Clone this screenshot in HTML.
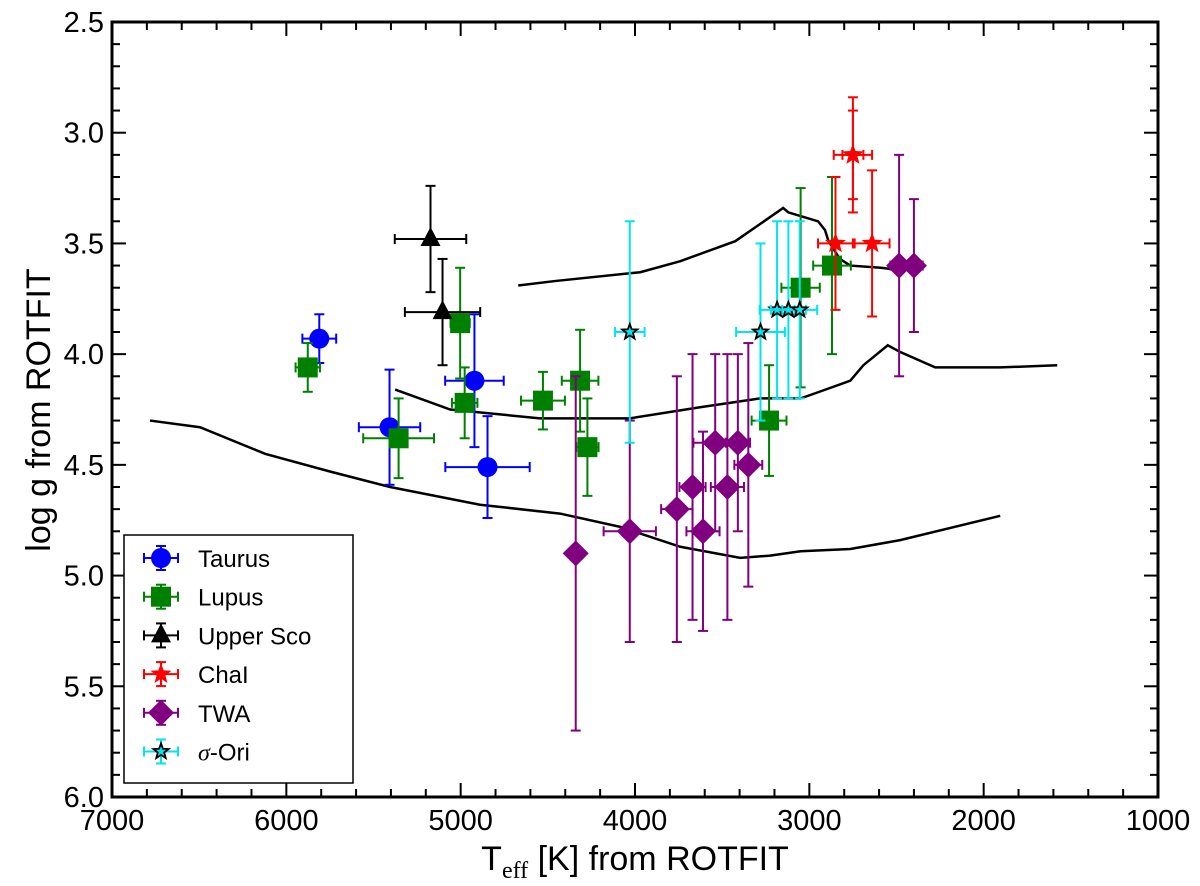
<!DOCTYPE html>
<html><head><meta charset="utf-8"><style>
html,body{margin:0;padding:0;background:#fff}
svg{display:block;font-family:"Liberation Sans","DejaVu Sans",sans-serif}
</style></head><body>
<svg id="chart" width="1200" height="886" viewBox="0 0 1200 886" xmlns="http://www.w3.org/2000/svg">
<rect x="0" y="0" width="1200" height="886" fill="#fff"/>
<g id="curves"></g>
<g id="marks"></g>
<g id="axes"></g>
<g id="legend"></g>
<text x="0" y="0" transform="translate(50,410) rotate(-90)" text-anchor="middle" font-size="34">log g from ROTFIT</text>
<text x="635" y="870" text-anchor="middle" font-size="34">T<tspan font-family="Liberation Serif, serif" font-size="24" dy="8">eff</tspan><tspan dy="-8"> [K] from ROTFIT</tspan></text>
</svg>
<script>
// ---- data ----
const tauT=[5811,5408,4921,4846], tauG=[3.93,4.33,4.12,4.51], tauXE=[97,176,168,242], tauYE=[0.11,0.26,0.30,0.23];
const lupT=[5877,5356,5003,4977,4528,4315,4273,3231,3050,2870], lupG=[4.06,4.38,3.86,4.22,4.21,4.12,4.42,4.30,3.70,3.60];
const lupXE=[70,203,55,73,126,105,64,100,110,108], lupYE=[0.11,0.18,0.25,0.16,0.13,0.23,0.22,0.25,0.45,0.40];
const uscT=[5173,5104], uscG=[3.48,3.81], uscXE=[205,216], uscYE=[0.24,0.24];
const chaT=[2750,2750,2850,2640], chaG=[3.10,3.10,3.50,3.50], chaXE=[110,60,100,100], chaYE=[0.26,0.20,0.30,0.33];
const twaT=[4340,4030,3760,3670,3610,3540,3470,3410,3350,2485,2400], twaG=[4.9,4.8,4.7,4.6,4.8,4.4,4.6,4.4,4.5,3.6,3.6];
const twaXE=[0,150,90,75,95,125,95,70,80,50,50], twaYE=[0.8,0.5,0.6,0.6,0.45,0.4,0.6,0.4,0.55,0.5,0.3];
const oriT=[4030,3280,3185,3120,3055], oriG=[3.9,3.9,3.8,3.8,3.8], oriXE=[85,140,100,100,100], oriYE=[0.5,0.4,0.4,0.4,0.4];
const iso1T=[4670,4460,3970,3740,3425,3150,3120,2950,2910,2890,2825,2765,2590,2480];
const iso1G=[3.69,3.67,3.63,3.58,3.49,3.34,3.36,3.40,3.44,3.49,3.57,3.60,3.61,3.62];
const iso2T=[5376,5060,4545,4030,3627,3282,3050,2978,2765,2690,2550,2480,2278,1905,1578];
const iso2G=[4.16,4.25,4.29,4.29,4.24,4.20,4.20,4.18,4.12,4.05,3.96,3.99,4.06,4.06,4.05];
const iso3T=[6782,6495,6122,5750,5405,4889,4430,4085,3740,3397,3225,3050,2765,2479,1905];
const iso3G=[4.30,4.33,4.45,4.53,4.60,4.68,4.72,4.78,4.87,4.92,4.91,4.89,4.88,4.84,4.73];
const xTicks=[7000,6000,5000,4000,3000,2000,1000];
const yTicks=[2.5,3.0,3.5,4.0,4.5,5.0,5.5,6.0];
// ---- scales ----
const X0=112,X1=1158,Y0=22,Y1=797;
const sx=t=>X0+(7000-t)*(X1-X0)/6000;
const sy=g=>Y0+(g-2.5)*(Y1-Y0)/3.5;
const NS='http://www.w3.org/2000/svg';
function mk(tag,attrs,parent){const e=document.createElementNS(NS,tag);for(const k in attrs)e.setAttribute(k,attrs[k]);parent.appendChild(e);return e;}
const curves=document.getElementById('curves'),marks=document.getElementById('marks'),axes=document.getElementById('axes'),legend=document.getElementById('legend');
[[iso1T,iso1G,'isochrone-1'],[iso2T,iso2G,'isochrone-2'],[iso3T,iso3G,'isochrone-3']].forEach(([T,G,n])=>{
  const p=mk('polyline',{points:T.map((t,i)=>sx(t)+','+sy(G[i])).join(' '),fill:'none',stroke:'#000','stroke-width':2.5},curves);
  
  
});
function marker(kind,cx,cy,col,par,s){
  let e;
  if(kind==='circle')e=mk('circle',{cx,cy,r:10*s,fill:col},par);
  else if(kind==='square')e=mk('rect',{x:cx-10*s,y:cy-10*s,width:20*s,height:20*s,fill:col},par);
  else if(kind==='tri')e=mk('polygon',{points:`${cx},${cy-12*s} ${cx-10*s},${cy+7*s} ${cx+10*s},${cy+7*s}`,fill:col},par);
  else if(kind==='diamond')e=mk('polygon',{points:`${cx},${cy-13*s} ${cx+13*s},${cy} ${cx},${cy+13*s} ${cx-13*s},${cy}`,fill:col},par);
  else{const R=(kind==='bigstar'?11:8)*s,r=R*0.42;let pts=[];for(let k=0;k<10;k++){const a=-Math.PI/2+k*Math.PI/5,rr=k%2?r:R;pts.push((cx+rr*Math.cos(a)).toFixed(1)+','+(cy+rr*Math.sin(a)).toFixed(1));}
    e=mk('polygon',{points:pts.join(' '),fill:col,stroke:kind==='bigstar'?'none':'#000','stroke-width':1.8},par);}
  return e;
}
function errbar(cx,cy,dx,dy,col,par,w){
  mk('line',{x1:cx,y1:cy-dy,x2:cx,y2:cy+dy,stroke:col,'stroke-width':w},par);
  mk('line',{x1:cx-5,y1:cy-dy,x2:cx+5,y2:cy-dy,stroke:col,'stroke-width':w},par);
  mk('line',{x1:cx-5,y1:cy+dy,x2:cx+5,y2:cy+dy,stroke:col,'stroke-width':w},par);
  if(dx>0){mk('line',{x1:cx-dx,y1:cy,x2:cx+dx,y2:cy,stroke:col,'stroke-width':w},par);
  mk('line',{x1:cx-dx,y1:cy-5,x2:cx-dx,y2:cy+5,stroke:col,'stroke-width':w},par);
  mk('line',{x1:cx+dx,y1:cy-5,x2:cx+dx,y2:cy+5,stroke:col,'stroke-width':w},par);}
}
const series=[
 ['taurus',tauT,tauG,tauXE,tauYE,'#0000ff','circle'],
 ['lupus',lupT,lupG,lupXE,lupYE,'#008000','square'],
 ['upper-sco',uscT,uscG,uscXE,uscYE,'#000000','tri'],
 ['twa',twaT,twaG,twaXE,twaYE,'#800080','diamond'],
 ['chai',chaT,chaG,chaXE,chaYE,'#ff0000','bigstar'],
 ['sigma-ori',oriT,oriG,oriXE,oriYE,'#00e5ee','star']];
series.forEach(([n,T,G,XE,YE,col,kind])=>{
  T.forEach((t,i)=>{
    const g=mk('g',{},marks);
    
    
    const cx=sx(t),cy=sy(G[i]);
    errbar(cx,cy,sx(t-XE[i])-cx,sy(G[i]+YE[i])-cy,col,g,2);
    marker(kind,cx,cy,col,g,1);
  });
});
// axes
mk('rect',{x:X0,y:Y0,width:X1-X0,height:Y1-Y0,fill:'none',stroke:'#000','stroke-width':3},axes);
for(let t=7000;t>=1000;t-=200){const x=sx(t),maj=t%1000===0,L=maj?14:8;
  mk('line',{x1:x,y1:Y1,x2:x,y2:Y1-L,stroke:'#000','stroke-width':2},axes);
  mk('line',{x1:x,y1:Y0,x2:x,y2:Y0+L,stroke:'#000','stroke-width':2},axes);}
for(let k=25;k<=60;k++){const g=k/10,y=sy(g),maj=k%5===0,L=maj?14:8;
  mk('line',{x1:X0,y1:y,x2:X0+L,y2:y,stroke:'#000','stroke-width':2},axes);
  mk('line',{x1:X1,y1:y,x2:X1-L,y2:y,stroke:'#000','stroke-width':2},axes);}
xTicks.forEach(t=>{const e=mk('text',{x:sx(t),y:Y1+33,'text-anchor':'middle','font-size':29},axes);e.textContent=t;
  
  });
yTicks.forEach(g=>{const e=mk('text',{x:X0-8,y:sy(g)+10,'text-anchor':'end','font-size':29},axes);e.textContent=g.toFixed(1);
  
  });
// legend
mk('rect',{x:124,y:535,width:229,height:248,fill:'#fff',stroke:'#000','stroke-width':1.5},legend);
const labs=['Taurus','Lupus','Upper Sco','ChaI','TWA','σ-Ori'];
const lcol=['#0000ff','#008000','#000000','#ff0000','#800080','#00e5ee'];
const lkind=['circle','square','tri','bigstar','diamond','star'];
labs.forEach((l,i)=>{const y=558+i*38.7;
  const g=mk('g',{},legend);
  
  
  errbar(161,y,17,12,lcol[i],g,2);marker(lkind[i],161,y,lcol[i],g,1);
  const t=mk('text',{x:198,y:y+9,'font-size':24},g);
  if(i===5){const s=mk('tspan',{'font-style':'italic','font-family':'Liberation Serif, serif'},t);s.textContent='σ';const s2=mk('tspan',{},t);s2.textContent='-Ori';}
  else t.textContent=l;});
</script>
</body></html>
